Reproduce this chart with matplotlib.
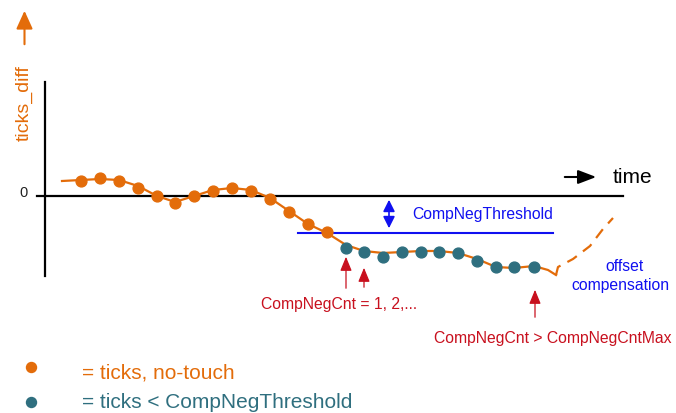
import matplotlib
matplotlib.use("Agg")
import matplotlib.pyplot as plt

plt.rcParams["font.family"] = ["Liberation Sans", "DejaVu Sans"]

# -----------------------------------------------------------------------------
# Data (sketch coordinates; y grows downward)
# -----------------------------------------------------------------------------
notouch_x = [81, 100, 119, 138, 157, 175, 194, 213, 232, 251, 270, 289, 308, 327]
notouch_y = [182, 179, 182, 189, 197, 204, 197, 192, 189, 192, 200, 213, 225, 233]

below_x = [346, 364, 383, 402, 421, 439, 458, 477, 496, 514, 534]
below_y = [249, 253, 258, 253, 253, 253, 254, 262, 268, 268, 268]

curve_x = [62, 81, 100, 119, 138, 157, 175, 194, 213, 232, 251, 270, 289, 308,
           327, 346, 364, 383, 402, 421, 439, 458, 477, 496, 514, 534, 548, 556]
curve_y = [182, 181, 180, 181, 187, 197, 203, 197, 191, 189, 191, 199, 212, 225,
           234, 246, 252, 254, 253, 252, 252, 254, 260, 268, 269, 267, 271, 276]

comp_x = [556, 558, 573, 590, 603, 613]
comp_y = [276, 268, 260, 247, 230, 219]

zero_level = 197
threshold_level = 234

ORANGE = "#E36C0A"
TEAL = "#2F6F7F"
RED = "#C8101E"
BLUE = "#1010F0"

fig = plt.figure(figsize=(6.76, 4.14), dpi=100)
ax = fig.add_axes([0, 0, 1, 1])
ax.set_xlim(0, 676)
ax.set_ylim(414, 0)
ax.axis("off")

# axes of the sketch
ax.plot([45, 45], [83, 277], color="black", lw=1.6)
ax.plot([37, 623], [zero_level, zero_level], color="black", lw=1.6)
ax.text(24, zero_level - 4, "0", fontsize=10.5, ha="center", va="center", color="#222222")

# y label with arrow
ax.text(24, 103, "ticks_diff", rotation=90, fontsize=14, color=ORANGE,
        ha="center", va="center")
ax.annotate("", xy=(24.5, 9), xytext=(24.5, 48),
            arrowprops=dict(arrowstyle="-|>,head_length=1.1,head_width=0.5",
                            color=ORANGE, lw=1.5))

# time arrow
ax.annotate("", xy=(599, 178), xytext=(562, 178),
            arrowprops=dict(arrowstyle="-|>,head_length=1.1,head_width=0.42",
                            color="black", lw=1.5))
ax.text(613, 178, "time", fontsize=15, ha="left", va="center")

# threshold
ax.plot([298, 553], [threshold_level, threshold_level], color=BLUE, lw=1.5)
ax.annotate("", xy=(389, zero_level + 1), xytext=(389, threshold_level - 2),
            arrowprops=dict(arrowstyle="<|-|>,head_length=0.7,head_width=0.35",
                            color=BLUE, lw=1.2))
ax.text(412, 215, "CompNegThreshold", fontsize=11.3, color=BLUE,
        ha="left", va="center")

# signal curve and samples
ax.plot(curve_x, curve_y, color=ORANGE, lw=1.6, zorder=2)
ax.plot(comp_x, comp_y, color=ORANGE, lw=1.6, ls=(0, (5, 3.5)), zorder=2)
ax.plot(notouch_x, notouch_y, "o", color=ORANGE, ms=7.8, zorder=3)
ax.plot(below_x, below_y, "o", color=TEAL, ms=7.8, zorder=3)

# red counter arrows
for x0, tip, tail in [(346, 255, 292), (364, 266, 291), (535, 288, 321)]:
    ax.annotate("", xy=(x0, tip), xytext=(x0, tail),
                arrowprops=dict(arrowstyle="-|>,head_length=0.85,head_width=0.35",
                                color=RED, lw=0.9))
ax.text(339, 305, "CompNegCnt = 1, 2,...", fontsize=11.3, color=RED,
        ha="center", va="center")
ax.text(553, 339, "CompNegCnt > CompNegCntMax", fontsize=11.3, color=RED,
        ha="center", va="center")

ax.text(624, 267, "offset", fontsize=11.3, color=BLUE, ha="center", va="center")
ax.text(620, 286, "compensation", fontsize=11.3, color=BLUE, ha="center", va="center")

# legend
ax.plot([31], [368], "o", color=ORANGE, ms=7.2)
ax.text(82, 373, "= ticks, no-touch", fontsize=15, color=ORANGE, ha="left", va="center")
ax.plot([31], [403], "o", color=TEAL, ms=7.2)
ax.text(82, 403, "= ticks < CompNegThreshold", fontsize=15, color=TEAL,
        ha="left", va="center")

fig.savefig("out.png", dpi=100)
